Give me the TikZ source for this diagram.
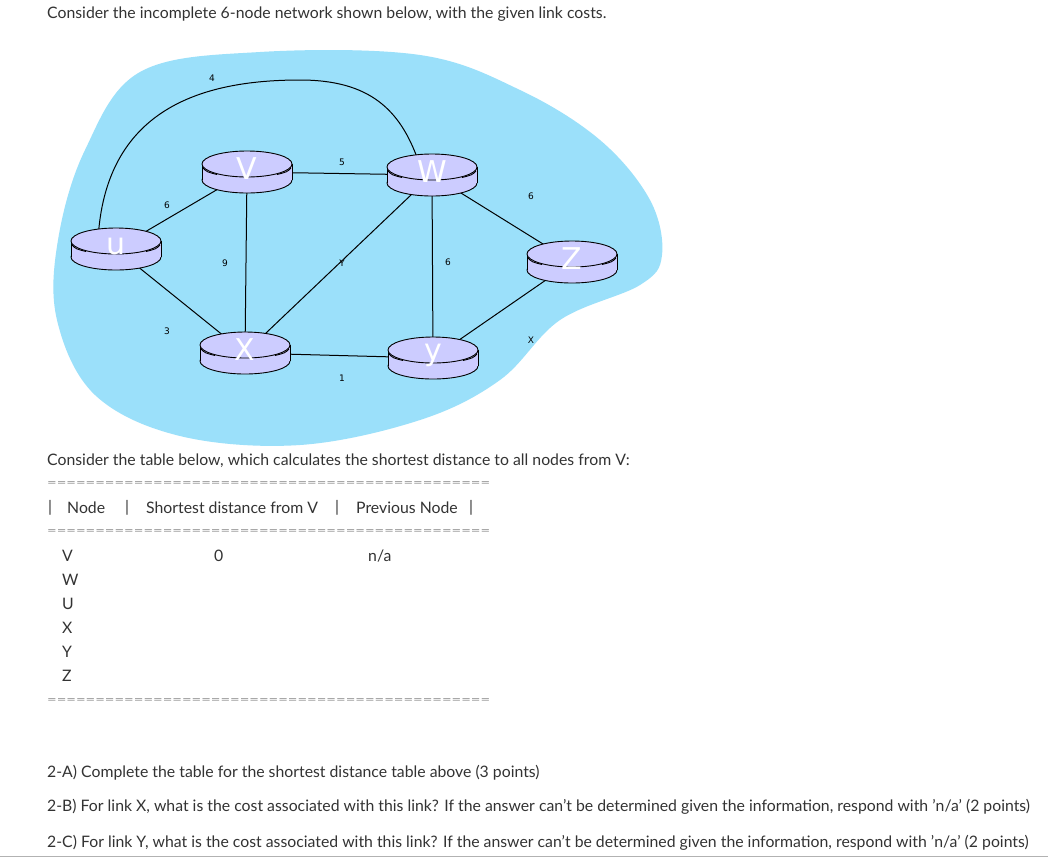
\documentclass[tikz,border=0pt]{standalone}
\usepackage{fontspec}
\setmainfont{Lato}
\newfontfamily\rfont{DejaVu Sans}
\definecolor{rlav}{RGB}{204,204,255}
\definecolor{blob}{RGB}{155,224,250}
\begin{document}
\begin{tikzpicture}[x=1pt,y=-1pt,
  txt/.style={anchor=west,inner sep=0,font=\fontsize{15.8}{17}\selectfont,text=black!80},
  lbl/.style={inner sep=0,font=\rfont\fontsize{9}{10}\selectfont},
  link/.style={line width=1pt},
  router/.pic={
    \draw[line width=0.9pt,fill=rlav] (0,8) ellipse[x radius=45pt,y radius=13pt];
    \fill[rlav] (-44.5,-8) rectangle (44.5,8);
    \draw[line width=0.9pt] (-45,-8) -- (-45,8) (45,-8) -- (45,8);
    \draw[line width=0.9pt,fill=rlav] (0,-8) ellipse[x radius=45pt,y radius=13pt];
    \draw[line width=0.9pt] (-44,-4) .. controls (-40,0) .. (-30,2.5);
    \draw[line width=0.9pt] (44,-4) .. controls (40,0) .. (30,2.5);
    \node[text=white,font=\rfont\fontsize{30}{30}\selectfont] at (0,-3) {\tikzpictext};
  }]
\useasboundingbox (0,0) rectangle (1048,857);
\fill[white] (0,0) rectangle (1048,857);
\fill[blob] plot[smooth cycle,tension=0.6] coordinates{
 (140,72) (260,52) (420,55) (520,90) (600,140) (650,200) (662,255) (640,285) (560,320) (500,380) (420,420) (300,445) (180,436) (95,395) (57,320) (58,240) (85,150)};
\node[txt] at (47,14) {Consider the incomplete 6-node network shown below, with the given link costs.};
\coordinate (u) at (116,249); \coordinate (v) at (247,172); \coordinate (w) at (432,175);
\coordinate (x) at (245,353); \coordinate (y) at (433,358); \coordinate (z) at (572,262);
\draw[link] (98,240) .. controls (105,110) and (200,80) .. (300,80) .. controls (370,80) and (400,110) .. (418,160);
\draw[link] (u) -- (v); \draw[link] (u) -- (x); \draw[link] (v) -- (x); \draw[link] (v) -- (w);
\draw[link] (w) -- (x); \draw[link] (w) -- (y); \draw[link] (x) -- (y); \draw[link] (w) -- (z); \draw[link] (y) -- (z);
\foreach \p/\t in {u/u,v/V,w/W,x/X,y/y,z/Z}{\pic[pic text=\t] at (\p) {router};}
\node[lbl] at (212,78) {4}; \node[lbl] at (342,162) {5}; \node[lbl] at (167,205) {6};
\node[lbl] at (225,263) {9}; \node[lbl] at (342,263) {Y}; \node[lbl] at (448,262) {6};
\node[lbl] at (167,331) {3}; \node[lbl] at (342,378) {1}; \node[lbl] at (531,196) {6};
\node[lbl] at (531,340) {X};
\node[txt] at (47,461) {Consider the table below, which calculates the shortest distance to all nodes from V:};
\foreach \yy in {484,532,701}{\node[txt,text=black!45] at (47,\yy) {\resizebox{443pt}{5pt}{==============================================}};}
\foreach \xx/\t in {48/|,67/Node,125/|,146/Shortest distance from V,335/|,356/Previous Node,469/|}{\node[txt] at (\xx,508) {\t};}
\foreach \t/\yy in {V/556,W/580,U/604,X/628,Y/652,Z/676}{\node[txt] at (62,\yy) {\t};}
\node[txt] at (214,556) {0}; \node[txt] at (368,556) {n/a};
\node[txt] at (47,773) {2-A) Complete the table for the shortest distance table above (3 points)};
\node[txt] at (47,807) {2-B) For link X, what is the cost associated with this link? If the answer can't be determined given the information, respond with 'n/a' (2 points)};
\node[txt] at (47,843) {2-C) For link Y, what is the cost associated with this link? If the answer can't be determined given the information, respond with 'n/a' (2 points)};
\draw[black!30] (0,856) -- (1048,856);
\end{tikzpicture}
\end{document}
